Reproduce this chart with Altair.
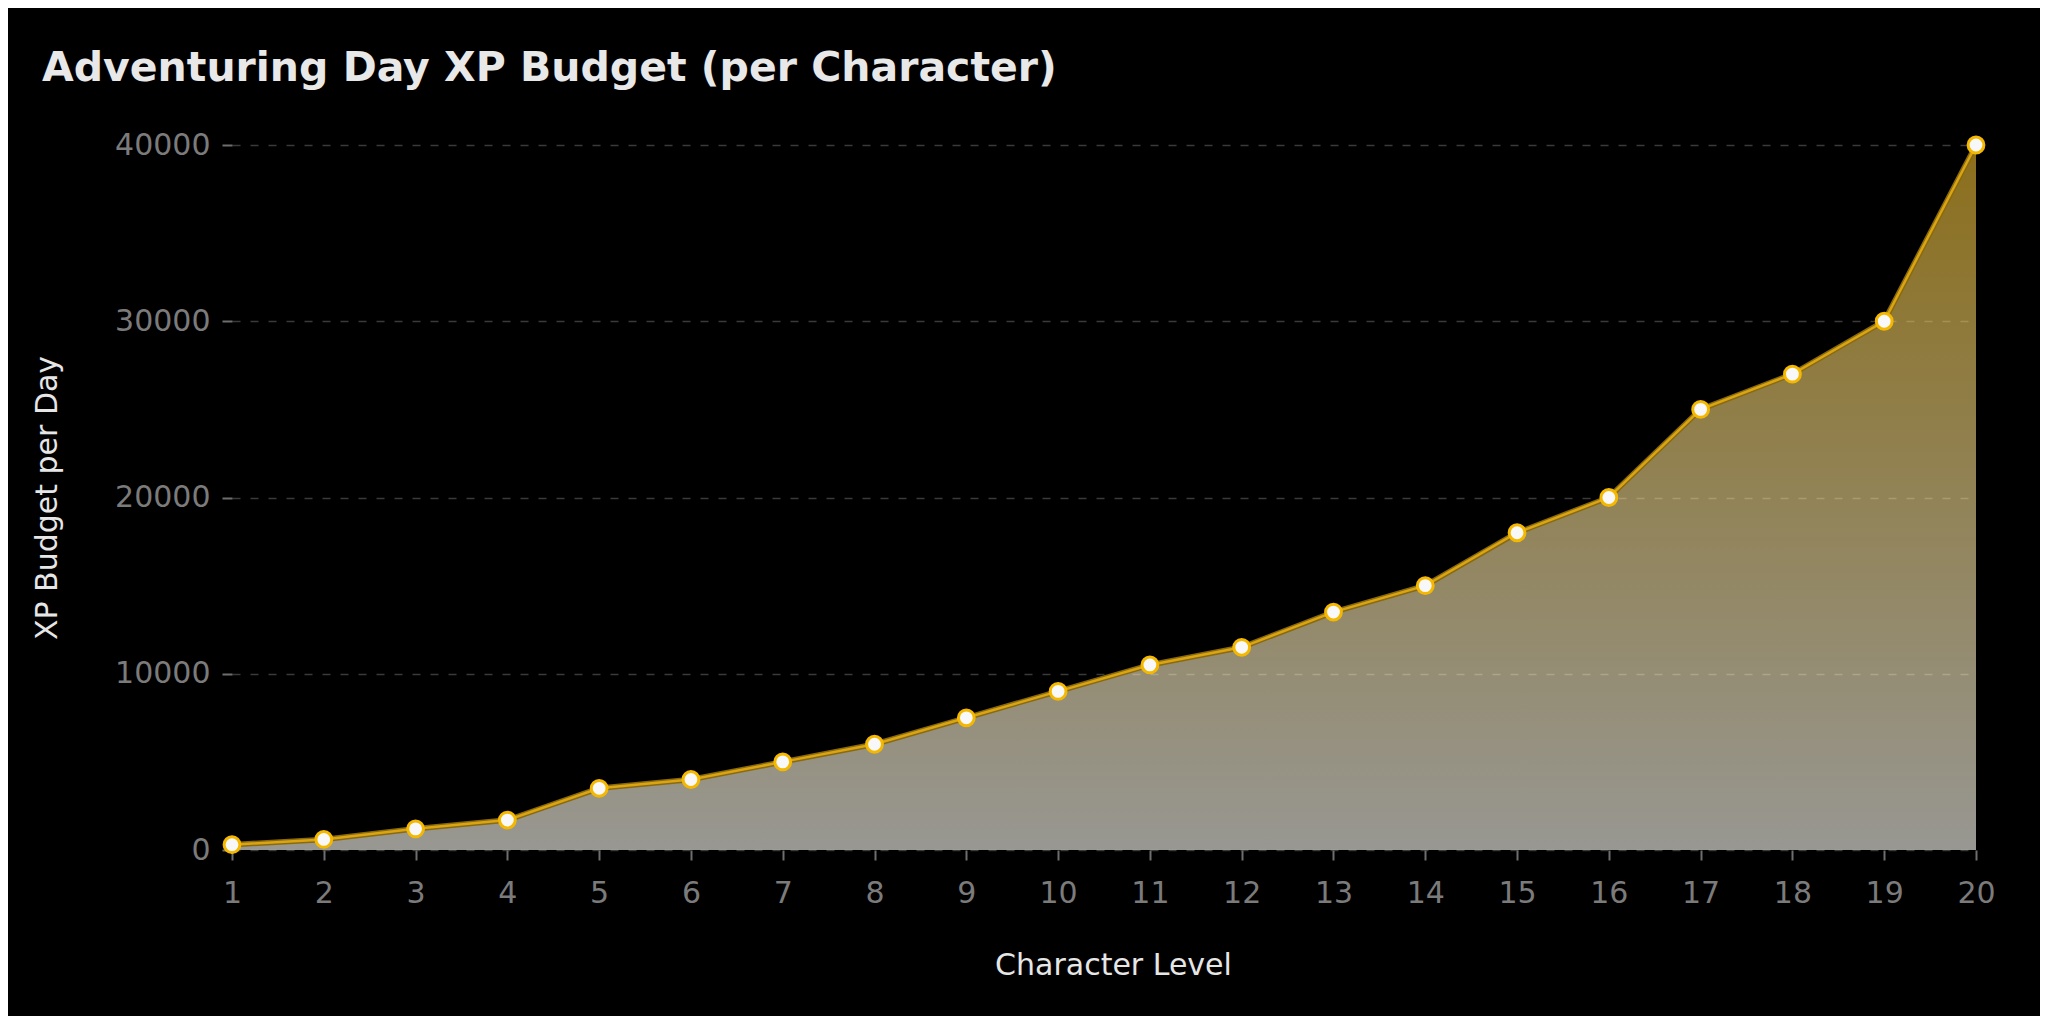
import pandas as pd
import altair as alt

# Adventuring day XP budget per character, levels 1-20
levels = list(range(1, 21))
xp_budget = [300, 600, 1200, 1700, 3500, 4000, 5000, 6000, 7500, 9000,
             10500, 11500, 13500, 15000, 18000, 20000, 25000, 27000, 30000, 40000]
y_ticks = [0, 10000, 20000, 30000, 40000]

df = pd.DataFrame({'level': levels, 'xp': xp_budget})

FONT = 'DejaVu Sans'

x_enc = alt.X('level:Q', title='Character Level',
              scale=alt.Scale(domain=[1, 20], nice=False, zero=False),
              axis=alt.Axis(values=levels, format='d', grid=False, labelFlush=False,
                            labelPadding=18, titleX=881, titleY=124,
                            titleBaseline='alphabetic', titleAlign='center',
                            titleAnchor='start'))
y_enc = alt.Y('xp:Q', title='XP Budget per Day',
              scale=alt.Scale(domain=[0, 40000], nice=False),
              axis=alt.Axis(values=y_ticks, format='d', grid=True,
                            gridDash=[8, 10], gridColor='#3a3a3a', gridWidth=1.5,
                            labelPadding=12, titleX=-170, titleBaseline='bottom'))

base = alt.Chart(df)

gradient = alt.Gradient(
    gradient='linear',
    stops=[alt.GradientStop(color='#e9b92f', offset=0),
           alt.GradientStop(color='#fdfcf3', offset=1)],
    x1=0, x2=0, y1=0, y2=1,
)

area = base.mark_area(color=gradient, opacity=0.6).encode(x=x_enc, y=y_enc)
line_dark = base.mark_line(color='#8a6a10', strokeWidth=5.5).encode(x='level:Q', y='xp:Q')
line_bright = base.mark_line(color='#dba512', strokeWidth=2.5).encode(x='level:Q', y='xp:Q')
points = base.mark_point(filled=True, fill='#f8f8f8', stroke='#f5b800', strokeWidth=3,
                         size=250, opacity=1, shape='circle').encode(
    x='level:Q', y='xp:Q',
    tooltip=[alt.Tooltip('level:Q', title='Level'), alt.Tooltip('xp:Q', title='XP')]
)

chart = alt.layer(area, line_dark, line_bright, points).properties(
    width=1744,
    height=705,
    autosize=alt.AutoSizeParams(type='none'),
    padding={'left': 224, 'top': 137, 'right': 64, 'bottom': 166},
    background='#000000',
    title=alt.TitleParams(
        'Adventuring Day XP Budget (per Character)',
        anchor='start', frame='group', dx=-190, offset=40,
        fontSize=41, fontWeight='bold', color='#e8e8e8', font=FONT,
    ),
).configure_view(
    strokeWidth=0
).configure_axis(
    domain=False,
    labelFont=FONT, labelFontSize=30, labelColor='#7b7b7b',
    titleFont=FONT, titleFontSize=30, titleColor='#e6e6e6', titleFontWeight='normal',
    tickColor='#6e6e6e', tickWidth=2, tickSize=10,
)

chart.save("out.html", embed_options={"renderer": "svg", "actions": False})
